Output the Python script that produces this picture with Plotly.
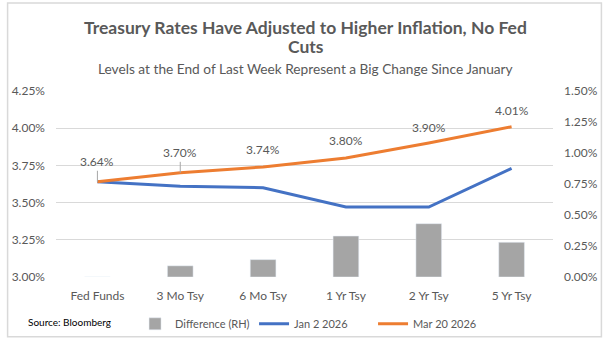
import plotly.graph_objects as go

categories = ["Fed Funds", "3 Mo Tsy", "6 Mo Tsy", "1 Yr Tsy", "2 Yr Tsy", "5 Yr Tsy"]
jan_2_2026 = [3.64, 3.61, 3.60, 3.47, 3.47, 3.73]
mar_20_2026 = [3.64, 3.70, 3.74, 3.80, 3.90, 4.01]
difference = [0.00, 0.09, 0.14, 0.33, 0.43, 0.28]
label_offsets = [-20, -20, -17, -17, -16, -16]
left_ticks = [3.00, 3.25, 3.50, 3.75, 4.00, 4.25]
right_ticks = [0.00, 0.25, 0.50, 0.75, 1.00, 1.25, 1.50]

FONT = "Lato"
GRAY_TXT = "#595959"

L, R, T, B = 50, 59, 91, 69
W, H = 612, 350
pw, ph = W - L - R, H - T - B
def px2paper_x(px):
    return (px - L) / pw
def px2paper_y(py):
    return (H - B - py) / ph

fig = go.Figure()
fig.add_trace(go.Bar(x=categories, y=difference, name="Difference (RH)",
                     marker=dict(color="#A5A5A5"), width=0.31, yaxis="y2"))
fig.add_trace(go.Scatter(x=categories, y=jan_2_2026, name="Jan 2 2026", mode="lines",
                         line=dict(color="#4472C4", width=3)))
fig.add_trace(go.Scatter(x=categories, y=mar_20_2026, name="Mar 20 2026", mode="lines",
                         line=dict(color="#ED7D31", width=3)))

annotations = []
for i, (c, v) in enumerate(zip(categories, mar_20_2026)):
    off = label_offsets[i]
    annotations.append(dict(x=c, y=v, xref="x", yref="y", text=f"{v:.2f}%",
                            showarrow=True, arrowhead=0, arrowwidth=1,
                            arrowcolor="#A6A6A6" if off <= -20 else "rgba(0,0,0,0)",
                            ax=0, ay=off, font=dict(family=FONT, size=12, color=GRAY_TXT)))

title_specs = [
    ("<b>Treasury Rates Have Adjusted to Higher Inflation, No Fed</b>", 26, 17.5),
    ("<b>Cuts</b>", 46, 17.5),
    ("Levels at the End of Last Week Represent a Big Change Since January", 68, 13.7),
]
for txt, py, size in title_specs:
    annotations.append(dict(text=txt, x=px2paper_x(W / 2 - 3), y=px2paper_y(py),
                            xref="paper", yref="paper", showarrow=False,
                            xanchor="center", yanchor="middle",
                            font=dict(family=FONT, size=size, color=GRAY_TXT)))

annotations.append(dict(text="Source: Bloomberg", x=px2paper_x(20), y=px2paper_y(327),
                        xref="paper", yref="paper", showarrow=False,
                        xanchor="left", yanchor="middle",
                        font=dict(family=FONT, size=10, color="#000000")))

fig.update_layout(
    width=W, height=H,
    margin=dict(l=L, r=R, t=T, b=B),
    paper_bgcolor="white", plot_bgcolor="white",
    font=dict(family=FONT, size=12, color=GRAY_TXT),
    showlegend=True,
    legend=dict(orientation="h", x=px2paper_x(130), y=px2paper_y(314), xanchor="left", yanchor="top",
                font=dict(family=FONT, size=11, color=GRAY_TXT), itemwidth=30,
                entrywidth=74, entrywidthmode="pixels",
                traceorder="normal", bgcolor="rgba(0,0,0,0)"),
    xaxis=dict(type="category", categoryorder="array", categoryarray=categories,
               showgrid=False, showline=False, zeroline=False, ticks="",
               ticklabelstandoff=10,
               tickfont=dict(family=FONT, size=12, color=GRAY_TXT)),
    yaxis=dict(range=[3.0, 4.25], tickvals=left_ticks, ticktext=[f"{t:.2f}%" for t in left_ticks],
               showgrid=True, gridcolor="#D9D9D9", gridwidth=1, zeroline=False, showline=False,
               ticks="", ticklabelstandoff=10,
               tickfont=dict(family=FONT, size=12, color=GRAY_TXT)),
    yaxis2=dict(range=[0, 1.5], tickvals=right_ticks, ticktext=[f"{t:.2f}%" for t in right_ticks],
                overlaying="y", side="right", showgrid=False, zeroline=False, showline=False,
                ticks="", ticklabelstandoff=10,
                tickfont=dict(family=FONT, size=12, color=GRAY_TXT)),
    annotations=annotations,
    shapes=[dict(type="rect", xref="paper", yref="paper",
                 x0=px2paper_x(1), x1=px2paper_x(602), y0=px2paper_y(342), y1=px2paper_y(1),
                 line=dict(color="#D9D9D9", width=1.5), fillcolor="rgba(0,0,0,0)", layer="below")],
)

fig.write_html("out.html")
